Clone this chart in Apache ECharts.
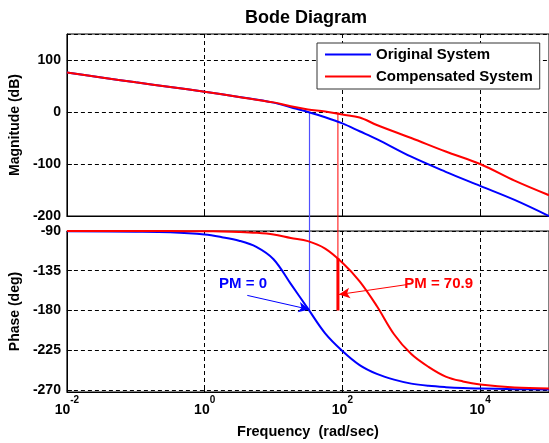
<!DOCTYPE html>
<html><head><meta charset="utf-8">
<script src="https://cdn.jsdelivr.net/npm/echarts@6/dist/echarts.min.js"></script>
<style>html,body{margin:0;padding:0;background:#fff}#c{width:549px;height:443px}</style>
</head><body><div id="c"></div>
<script>
// ---- data (frequencies in rad/sec) ----
const magFreq = [0.01, 0.0316, 0.1, 0.316, 1, 3.16, 10, 17.8, 31.6, 56.2, 100, 178, 316, 1000, 3162, 10000, 31623, 100000];
const magOriginal = [76, 66.5, 57, 48, 39, 29, 18, 9, 0, -10, -22, -37, -52, -86, -115, -142, -169, -200];
const magCompensated = [76, 66.5, 57, 48, 39, 29, 18.5, 11, 5, 1, -5, -10.5, -25, -50, -76, -100, -132, -160];

const phaseFreq = [0.01, 0.1, 0.316, 1, 1.78, 3.16, 5.62, 10, 17.8, 31.6, 56.2, 100, 178, 316, 562, 1000, 1778, 3162, 5623, 10000, 31623, 100000];
const phaseOriginal = [-90.3, -90.8, -91.5, -94, -97, -101, -108, -122, -150, -178, -206, -226, -242, -252, -258.5, -263, -265.5, -267, -268, -268.5, -269.3, -269.7];
const phaseCompensated = [-90, -90, -90.1, -90.3, -90.5, -91, -92, -94, -98, -101.5, -110, -126, -147, -175, -207, -229.5, -244, -255, -260.5, -264, -267.5, -268.5];

const magTicks = [-200, -100, 0, 100];
const phaseTicks = [-270, -225, -180, -135, -90];

const crossOriginal = 33.3;      // gain crossover, original (rad/sec)
const crossCompensated = 86.1;   // gain crossover, compensated (rad/sec)
const phaseAtCrossComp = -120.7; // phase of compensated system at its crossover
const pmLabels = ['PM = 0', 'PM = 70.9'];
const pmLabelPos = [[3.61, -149.6], [2500, -149.6]];
const pmArrowFrom = [[4.16, -163], [867, -150.75]];
const pmArrowTo = [[33.3, -179], [89, -162]];

// ---- chart ----
const FONT = 'Liberation Sans, Arial, sans-serif';
const BLUE = '#0000ff', RED = '#ff0000';
const zip = (a, b) => a.map((v, i) => [v, b[i]]);

const gridStyle = { show: true, lineStyle: { color: '#000', type: [4, 3], width: 1 } };
const tickStyle = { show: true, inside: true, length: 5, lineStyle: { color: '#000' } };
const lblStyle = { color: '#000', fontFamily: FONT, fontWeight: 'bold', fontSize: 14 };

const xCommon = {
  type: 'log', logBase: 10, min: 0.01, max: 100000, interval: 2,
  axisLine: { show: true, onZero: false, lineStyle: { color: '#000' } },
  axisTick: tickStyle, splitLine: gridStyle, minorTick: { show: false }
};

const option = {
  animation: false,
  backgroundColor: '#fff',
  title: {
    text: 'Bode Diagram', left: 301, textAlign: 'center', top: 4,
    textStyle: { fontFamily: FONT, fontSize: 18, fontWeight: 'bold', color: '#000' }
  },
  legend: {
    data: ['Original System', 'Compensated System'],
    orient: 'vertical', left: 317, top: 43,
    icon: 'rect', itemWidth: 46, itemHeight: 2, itemGap: 7,
    padding: [4, 7, 5, 8],
    borderColor: '#333', borderWidth: 1, backgroundColor: '#fff',
    textStyle: { fontFamily: FONT, fontWeight: 'bold', fontSize: 15, color: '#000' },
    selectedMode: false, z: 10
  },
  grid: [
    { left: 66, right: 0, top: 34, height: 182, show: true, borderColor: '#000', borderWidth: 1 },
    { left: 66, right: 0, top: 231, height: 161, show: true, borderColor: '#000', borderWidth: 1 }
  ],
  xAxis: [
    Object.assign({}, xCommon, { gridIndex: 0, axisLabel: { show: false } }),
    Object.assign({}, xCommon, {
      gridIndex: 1,
      name: 'Frequency  (rad/sec)', nameLocation: 'middle', nameGap: 32,
      nameTextStyle: Object.assign({}, lblStyle, { fontSize: 14.5 }),
      axisLabel: {
        margin: 3, showMaxLabel: false,
        formatter: v => '{b|10}{s|' + Math.round(Math.log10(v)) + '}',
        rich: {
          b: Object.assign({}, lblStyle, { padding: [8, 0, 0, 0], verticalAlign: 'bottom' }),
          s: Object.assign({}, lblStyle, { fontSize: 10, lineHeight: 10, verticalAlign: 'top' })
        }
      }
    })
  ],
  yAxis: [
    {
      type: 'value', gridIndex: 0, min: -200, max: 150, interval: 100,
      name: 'Magnitude (dB)', nameLocation: 'middle', nameGap: 44, nameRotate: 90,
      nameTextStyle: lblStyle,
      axisLine: { show: true, onZero: false, lineStyle: { color: '#000' } },
      axisTick: tickStyle, splitLine: gridStyle,
      axisLabel: Object.assign({ margin: 6, showMaxLabel: false }, lblStyle)
    },
    {
      type: 'value', gridIndex: 1, min: -272.5, max: -90,
      name: 'Phase (deg)', nameLocation: 'middle', nameGap: 44, nameRotate: 90,
      nameTextStyle: lblStyle,
      axisLine: { show: true, onZero: false, lineStyle: { color: '#000' } },
      axisTick: Object.assign({ customValues: phaseTicks }, tickStyle),
      splitLine: Object.assign({ customValues: phaseTicks }, gridStyle),
      axisLabel: Object.assign({ margin: 6, customValues: phaseTicks }, lblStyle)
    }
  ],
  series: [
    { name: 'Original System', type: 'line', xAxisIndex: 0, yAxisIndex: 0, data: zip(magFreq, magOriginal),
      showSymbol: false, smooth: 0.35, lineStyle: { color: BLUE, width: 2 }, itemStyle: { color: BLUE }, z: 3 },
    { name: 'Compensated System', type: 'line', xAxisIndex: 0, yAxisIndex: 0, data: zip(magFreq, magCompensated),
      showSymbol: false, smooth: 0.35, lineStyle: { color: RED, width: 2 }, itemStyle: { color: RED }, z: 4 },
    { name: 'Original System', type: 'line', xAxisIndex: 1, yAxisIndex: 1, data: zip(phaseFreq, phaseOriginal),
      showSymbol: false, smooth: 0.35, clip: false, lineStyle: { color: BLUE, width: 2 }, itemStyle: { color: BLUE }, z: 3 },
    { name: 'Compensated System', type: 'line', xAxisIndex: 1, yAxisIndex: 1, data: zip(phaseFreq, phaseCompensated),
      showSymbol: false, smooth: 0.35, clip: false, lineStyle: { color: RED, width: 2 }, itemStyle: { color: RED }, z: 4 },

    // crossover verticals
    { name: 'vb1', type: 'line', xAxisIndex: 0, yAxisIndex: 0, data: [[crossOriginal, 0], [crossOriginal, -229]],
      showSymbol: false, clip: false, lineStyle: { color: '#5050ff', width: 1.2 }, z: 2 },
    { name: 'vr1', type: 'line', xAxisIndex: 0, yAxisIndex: 0, data: [[crossCompensated, 0], [crossCompensated, -229]],
      showSymbol: false, clip: false, lineStyle: { color: RED, width: 1 }, z: 2 },
    { name: 'vb2', type: 'line', xAxisIndex: 1, yAxisIndex: 1, data: [[crossOriginal, -90], [crossOriginal, -180]],
      showSymbol: false, lineStyle: { color: '#5050ff', width: 1.2 }, z: 2,
      markLine: {
        silent: true, symbol: ['none', 'arrow'], symbolSize: [8, 11],
        lineStyle: { color: BLUE, width: 1, type: 'solid' }, label: { show: false },
        data: [[{ coord: pmArrowFrom[0] }, { coord: pmArrowTo[0] }]]
      },
      markPoint: {
        silent: true, symbol: 'rect', symbolSize: 1, itemStyle: { color: 'rgba(0,0,0,0)' },
        label: { show: true, position: 'inside', formatter: '{b}', color: BLUE, fontFamily: FONT, fontWeight: 'bold', fontSize: 15 },
        data: [{ name: pmLabels[0], coord: pmLabelPos[0] }]
      } },
    { name: 'vr2', type: 'line', xAxisIndex: 1, yAxisIndex: 1, data: [[crossCompensated, -90], [crossCompensated, phaseAtCrossComp]],
      showSymbol: false, lineStyle: { color: RED, width: 1 }, z: 2 },
    { name: 'vr3', type: 'line', xAxisIndex: 1, yAxisIndex: 1, data: [[crossCompensated, phaseAtCrossComp], [crossCompensated, -180]],
      showSymbol: false, lineStyle: { color: RED, width: 3 }, z: 5,
      markLine: {
        silent: true, symbol: ['none', 'arrow'], symbolSize: [8, 11],
        lineStyle: { color: RED, width: 1, type: 'solid' }, label: { show: false },
        data: [[{ coord: pmArrowFrom[1] }, { coord: pmArrowTo[1] }]]
      },
      markPoint: {
        silent: true, symbol: 'rect', symbolSize: 1, itemStyle: { color: 'rgba(0,0,0,0)' },
        label: { show: true, position: 'inside', formatter: '{b}', color: RED, fontFamily: FONT, fontWeight: 'bold', fontSize: 15 },
        data: [{ name: pmLabels[1], coord: pmLabelPos[1] }]
      } }
  ]
};
const chart = echarts.init(document.getElementById('c'), null, { renderer: 'canvas' });
chart.setOption(option);
</script></body></html>
